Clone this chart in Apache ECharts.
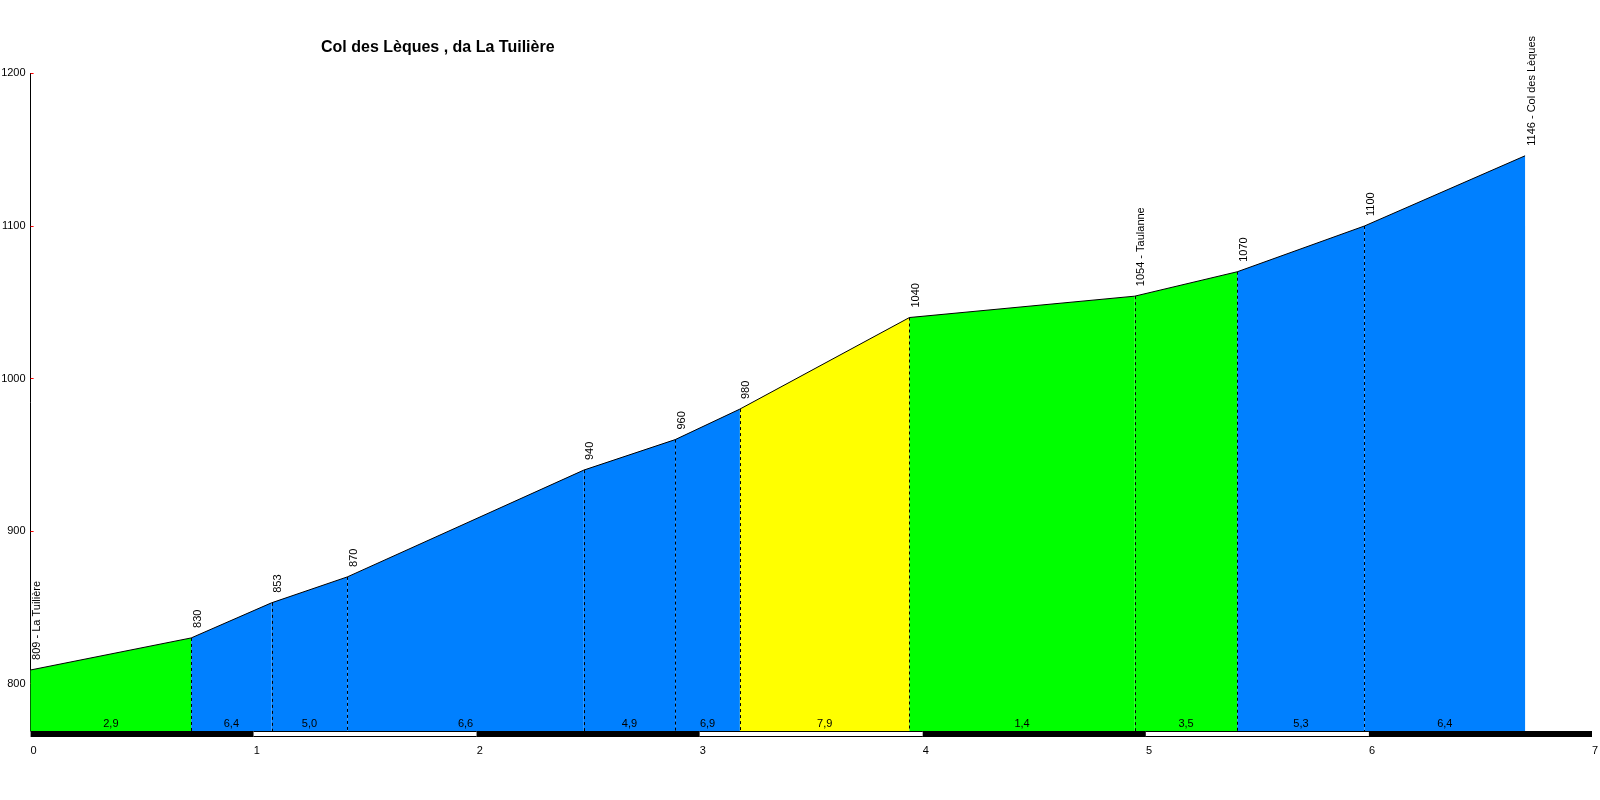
<!DOCTYPE html>
<html>
<head>
<meta charset="utf-8">
<script src="https://cdn.jsdelivr.net/npm/echarts@6/dist/echarts.min.js"></script>
<style>
  html, body { margin: 0; padding: 0; background: #fff; }
  #chart { width: 1600px; height: 800px; }
</style>
</head>
<body>
<div id="chart"></div>
<script>
// punti del profilo (km, quota)
const distances = [0, 0.72, 1.08, 1.42, 2.48, 2.89, 3.18, 3.94, 4.95, 5.41, 5.98, 6.70]
const altitudes = [809, 830, 853, 870, 940, 960, 980, 1040, 1054, 1070, 1100, 1146]
const placeNames = ['La Tuilière', '', '', '', '', '', '', '', 'Taulanne', '', '', 'Col des Lèques']
// pendenza media di ogni tratto (%)
const gradients = ['2,9', '6,4', '5,0', '6,6', '4,9', '6,9', '7,9', '1,4', '3,5', '5,3', '6,4']
const kmSteps = [0, 1, 2, 3, 4, 5, 6]
const altTicks = [800, 900, 1000, 1100, 1200]

const Y_MIN = 769
const Y_MAX = 1200
const FONT = 'Liberation Sans, Arial, sans-serif'

// colore in base alla pendenza
const colorFor = (g) => {
  const v = parseFloat(g.replace(',', '.'))
  if (v < 4) return '#00ff00'
  if (v < 7) return '#0080ff'
  return '#ffff00'
}

const segments = gradients.map((g, i) => [distances[i], altitudes[i], distances[i + 1], altitudes[i + 1], i])
const points = distances.map((d, i) => [d, altitudes[i], i])

const chart = echarts.init(document.getElementById('chart'))

chart.setOption({
  animation: false,
  title: {
    text: 'Col des Lèques , da La Tuilière',
    left: 321,
    top: 40,
    padding: 0,
    textStyle: { fontFamily: FONT, fontSize: 16, fontWeight: 'bold', color: '#000' }
  },
  grid: { left: 30.6, right: 8, top: 73.4, bottom: 69, outerBoundsMode: 'none', containLabel: false },
  xAxis: {
    type: 'value',
    min: 0,
    max: 7,
    interval: 1,
    axisLine: { show: false },
    axisTick: { show: false },
    splitLine: { show: false },
    axisLabel: { align: 'left', margin: 14, fontSize: 11, fontFamily: FONT, color: '#000' }
  },
  yAxis: {
    type: 'value',
    min: Y_MIN,
    max: Y_MAX,
    axisLine: { show: true, lineStyle: { color: '#000', width: 1 } },
    axisTick: { show: true, inside: true, length: 3, customValues: altTicks, lineStyle: { color: '#ff0000' } },
    axisLabel: {
      customValues: altTicks,
      formatter: v => String(v),
      margin: 5,
      fontSize: 11,
      fontFamily: FONT,
      color: '#000'
    },
    splitLine: { show: false }
  },
  series: [
    {
      // tratti colorati
      type: 'custom',
      data: segments,
      encode: { x: [0, 2], y: [1, 3] },
      z: 2,
      renderItem: (params, api) => {
        const i = api.value(4)
        const a = api.coord([api.value(0), api.value(1)])
        const b = api.coord([api.value(2), api.value(3)])
        const c = api.coord([api.value(2), Y_MIN])
        const d = api.coord([api.value(0), Y_MIN])
        const children = [
          { type: 'polygon', shape: { points: [a, b, c, d] }, style: { fill: colorFor(gradients[i]) } }
        ]
        if (i > 0) {
          children.push({
            type: 'line',
            shape: { x1: Math.round(a[0]) + 0.5, y1: a[1], x2: Math.round(a[0]) + 0.5, y2: d[1] },
            style: { stroke: '#000', lineWidth: 1, lineDash: [3, 3] }
          })
        }
        children.push({
          type: 'text',
          x: (a[0] + b[0]) / 2,
          y: d[1] - 7,
          style: {
            text: gradients[i],
            textAlign: 'center',
            textVerticalAlign: 'middle',
            font: '11px ' + FONT,
            fill: '#000'
          }
        })
        return { type: 'group', children }
      }
    },
    {
      // profilo
      type: 'line',
      data: points.map(p => [p[0], p[1]]),
      symbol: 'none',
      z: 4,
      lineStyle: { color: '#000', width: 1 }
    },
    {
      // quote e località
      type: 'custom',
      data: points,
      z: 5,
      clip: false,
      renderItem: (params, api) => {
        const i = api.value(2)
        const p = api.coord([api.value(0), api.value(1)])
        const name = placeNames[i] ? altitudes[i] + ' - ' + placeNames[i] : String(altitudes[i])
        return {
          type: 'text',
          x: p[0] + 6.5,
          y: p[1] - 10,
          rotation: Math.PI / 2,
          style: {
            text: name,
            textAlign: 'left',
            textVerticalAlign: 'middle',
            font: '11px ' + FONT,
            fill: '#000'
          }
        }
      }
    },
    {
      // barra chilometrica
      type: 'custom',
      data: kmSteps.map(k => [k, Y_MIN]),
      z: 6,
      clip: false,
      renderItem: (params, api) => {
        const k = api.value(0)
        const a = api.coord([k, Y_MIN])
        const b = api.coord([k + 1, Y_MIN])
        const children = [
          { type: 'rect', shape: { x: a[0], y: a[1], width: b[0] - a[0], height: 6 }, style: { fill: '#000' } }
        ]
        if (k % 2 === 1) {
          children.push({
            type: 'rect',
            shape: { x: a[0], y: a[1] + 1, width: b[0] - a[0], height: 4 },
            style: { fill: '#fff' }
          })
        }
        return { type: 'group', children }
      }
    }
  ]
})

window.addEventListener('resize', () => chart.resize())
</script>
</body>
</html>
